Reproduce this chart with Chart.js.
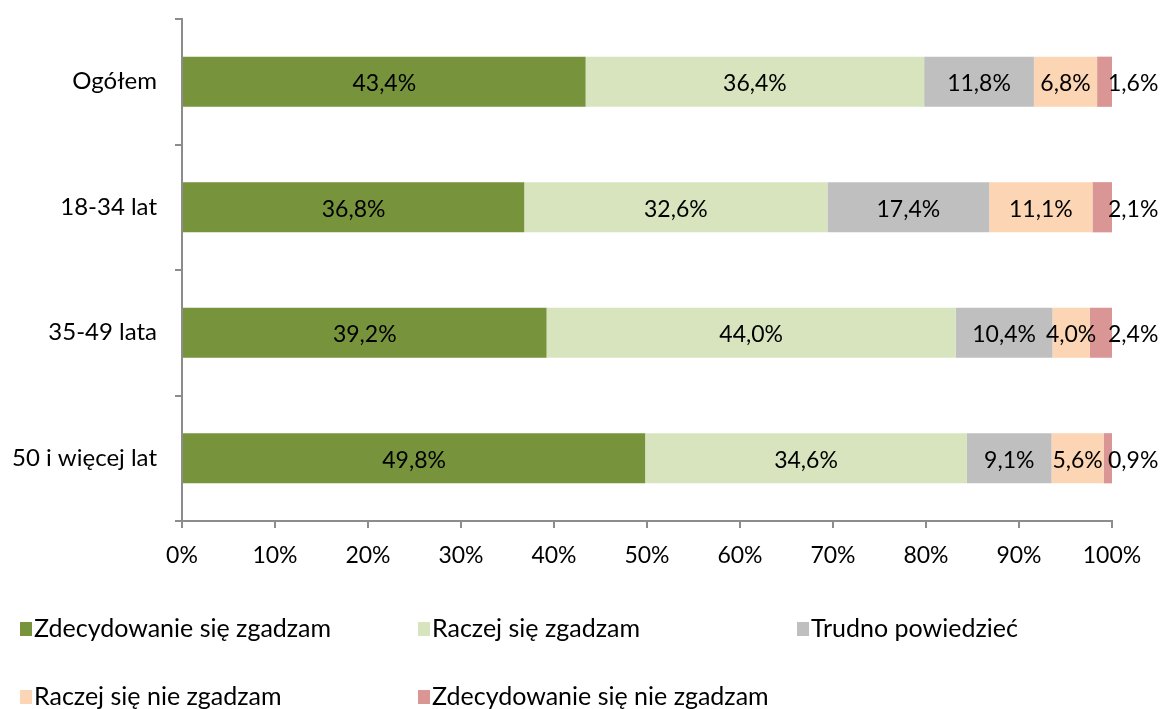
<!DOCTYPE html>
<html lang="pl">
<head>
    <meta charset="UTF-8">
    <title>Wykres</title>
    <script src="https://cdn.jsdelivr.net/npm/chart.js"></script>
    <style>
        html, body { margin: 0; padding: 0; background: #fff; }
        #wrap { width: 1166px; height: 709px; }
    </style>
</head>
<body>
    <div id="wrap"><canvas id="chart"></canvas></div>

    <script>
        // Data
        const categories = ['Ogółem', '18-34 lat', '35-49 lata', '50 i więcej lat'];
        const seriesNames = ['Zdecydowanie się zgadzam', 'Raczej się zgadzam', 'Trudno powiedzieć', 'Raczej się nie zgadzam', 'Zdecydowanie się nie zgadzam'];
        const strongAgree = [43.4, 36.8, 39.2, 49.8];
        const ratherAgree = [36.4, 32.6, 44.0, 34.6];
        const hardToSay = [11.8, 17.4, 10.4, 9.1];
        const ratherDisagree = [6.8, 11.1, 4.0, 5.6];
        const strongDisagree = [1.6, 2.1, 2.4, 0.9];
        const xTicks = [0, 10, 20, 30, 40, 50, 60, 70, 80, 90, 100];

        const colors = ['#77933C', '#D7E4BD', '#BFBFBF', '#FCD5B5', '#D99694'];
        const FONT = 'Lato, "Open Sans", sans-serif';
        const axisGray = '#8C8C8C';

        const allSeries = [strongAgree, ratherAgree, hardToSay, ratherDisagree, strongDisagree];
        const datasets = allSeries.map((vals, i) => ({
            label: seriesNames[i],
            data: vals,
            backgroundColor: colors[i],
            borderWidth: 0,
            barPercentage: 0.8,
            categoryPercentage: 0.5
        }));

        const fmt = v => v.toFixed(1).replace('.', ',') + '%';

        // value labels inside the bars (last series sits to the right)
        const valueLabels = {
            id: 'valueLabels',
            afterDatasetsDraw(chart) {
                const ctx = chart.ctx;
                ctx.save();
                ctx.font = '23px ' + FONT;
                ctx.fillStyle = '#000';
                ctx.textBaseline = 'middle';
                chart.data.datasets.forEach((ds, di) => {
                    const meta = chart.getDatasetMeta(di);
                    meta.data.forEach((bar, i) => {
                        const v = ds.data[i];
                        if (di === chart.data.datasets.length - 1) {
                            ctx.textAlign = 'left';
                            ctx.fillText(fmt(v), bar.x - 4, bar.y + 2);
                        } else {
                            ctx.textAlign = 'center';
                            ctx.fillText(fmt(v), (bar.base + bar.x) / 2, bar.y + 2);
                        }
                    });
                });
                ctx.restore();
            }
        };

        // legend in a fixed grid, like the original
        const gridLegend = {
            id: 'gridLegend',
            afterDraw(chart) {
                const ctx = chart.ctx;
                const spots = [[20, 629], [418, 629], [797, 629], [20, 697], [418, 697]];
                ctx.save();
                ctx.font = '25px ' + FONT;
                ctx.textBaseline = 'middle';
                ctx.textAlign = 'left';
                chart.data.datasets.forEach((ds, i) => {
                    const [x, y] = spots[i];
                    ctx.fillStyle = ds.backgroundColor;
                    ctx.fillRect(x, y - 7, 12, 14);
                    ctx.fillStyle = '#000';
                    ctx.fillText(ds.label, x + 14, y);
                });
                ctx.restore();
            }
        };

        new Chart(document.getElementById('chart'), {
            type: 'bar',
            data: { labels: categories, datasets: datasets },
            options: {
                indexAxis: 'y',
                responsive: true,
                maintainAspectRatio: false,
                animation: false,
                layout: { padding: { left: 0, right: 54, top: 19, bottom: 128 } },
                plugins: {
                    legend: { display: false },
                    tooltip: { enabled: false }
                },
                scales: {
                    x: {
                        stacked: true,
                        min: 0,
                        max: 100,
                        afterBuildTicks: axis => { axis.ticks = xTicks.map(v => ({ value: v })); },
                        afterFit: axis => { axis.height = 60; },
                        border: { color: axisGray, width: 2 },
                        grid: { drawOnChartArea: false, drawTicks: true, tickLength: 7, color: axisGray, lineWidth: 2 },
                        ticks: {
                            padding: 14,
                            color: '#000',
                            font: { family: FONT, size: 23 },
                            callback: v => v + '%'
                        }
                    },
                    y: {
                        stacked: true,
                        afterFit: axis => {
                            axis.width = 182;
                            axis.paddingTop = 0;
                            axis.paddingBottom = 0;
                        },
                        border: { color: axisGray, width: 2 },
                        grid: { offset: true, drawOnChartArea: false, drawTicks: true, tickLength: 7, color: axisGray, lineWidth: 2 },
                        ticks: {
                            padding: 18,
                            color: '#000',
                            font: { family: FONT, size: 24 }
                        }
                    }
                }
            },
            plugins: [valueLabels, gridLegend]
        });
    </script>
</body>
</html>
